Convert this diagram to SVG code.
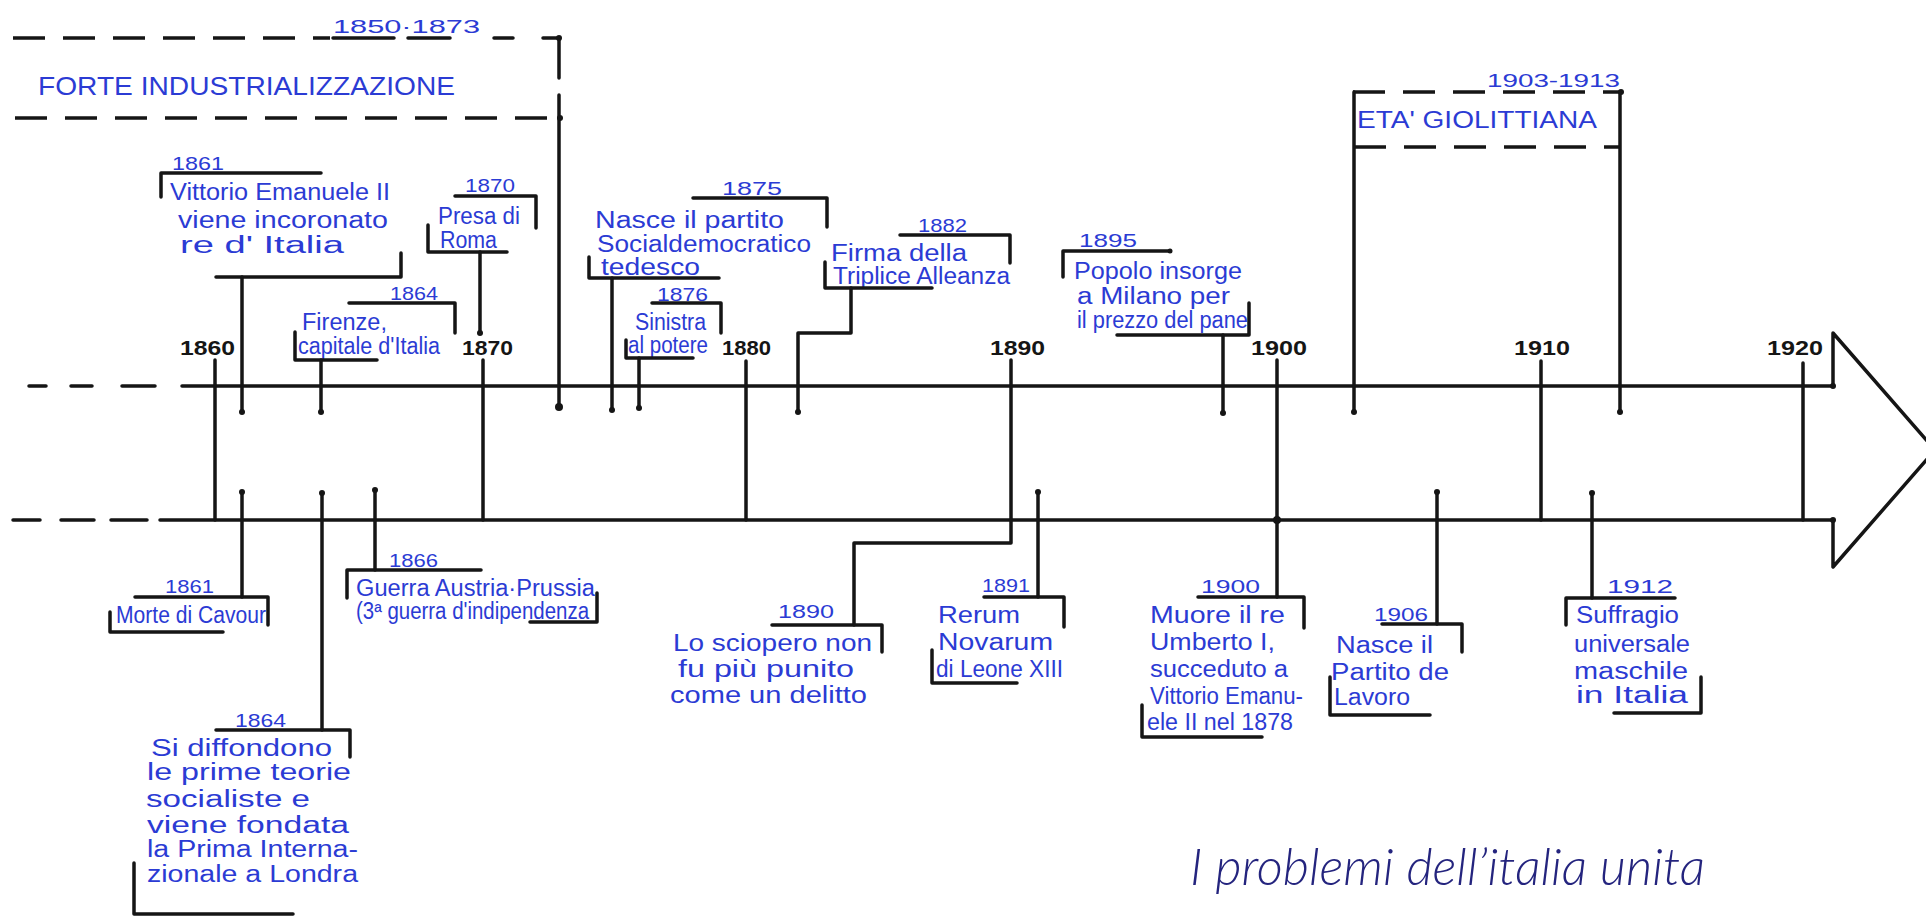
<svg xmlns="http://www.w3.org/2000/svg" width="1926" height="916" viewBox="0 0 1926 916">
<style>
.hw{font-family:"Liberation Sans","Open Sans",sans-serif;font-size:23px;fill:#2b3bd4}
.yr{font-family:"Liberation Sans","Open Sans",sans-serif;font-size:19px;fill:#2b3bd4}
.ax{font-family:"Liberation Sans",sans-serif;font-size:20px;font-weight:bold;fill:#151515}
.cap{font-family:"Liberation Sans",sans-serif;font-size:26px;fill:#2b3bd4}
.ttl{font-family:"Lato","Liberation Sans",sans-serif;font-style:italic;font-weight:300;font-size:52px;fill:#24247e}
.ln{stroke:#151515;stroke-width:3.5;fill:none;stroke-linecap:round;stroke-linejoin:round}
.dl{stroke:#151515;stroke-width:3.5;fill:none;stroke-dasharray:32 18}
.dot{fill:#151515}
</style>
<rect width="1926" height="916" fill="#ffffff"/>

<g id="axis">
  <path class="ln" d="M29 386H46M71 386H92M122 386H155M182 386H1833"/>
  <path class="ln" d="M13 520H40M61 520H94M111 520H147M160 520H1833"/>
  <path class="ln" d="M1833 386V333L1935 450L1833 567V520"/>
  <circle class="dot" cx="1833" cy="386" r="3"/>
  <circle class="dot" cx="1833" cy="520" r="3"/>
  <g id="years">
    <text class="ax" x="180" y="355" textLength="55" lengthAdjust="spacingAndGlyphs">1860</text>
    <text class="ax" x="462" y="355" textLength="51" lengthAdjust="spacingAndGlyphs">1870</text>
    <text class="ax" x="722" y="355" textLength="49" lengthAdjust="spacingAndGlyphs">1880</text>
    <text class="ax" x="990" y="355" textLength="55" lengthAdjust="spacingAndGlyphs">1890</text>
    <text class="ax" x="1251" y="355" textLength="56" lengthAdjust="spacingAndGlyphs">1900</text>
    <text class="ax" x="1514" y="355" textLength="56" lengthAdjust="spacingAndGlyphs">1910</text>
    <text class="ax" x="1767" y="355" textLength="56" lengthAdjust="spacingAndGlyphs">1920</text>
    <path class="ln" d="M215 360V520M483 360V520M746 361V520M1011 360V520M1277 360V520M1541 361V520M1803 363V520"/>
    <circle class="dot" cx="1277" cy="520" r="4"/>
  </g>
</g>

<g id="industrializzazione">
  <path class="dl" d="M13 38H330"/>
  <path class="ln" d="M333 38H394M408 38H450M494 38H513M543 38H559"/>
  <text class="yr" x="333" y="33" font-size="22" textLength="147" lengthAdjust="spacingAndGlyphs">1850·1873</text>
  <path class="ln" d="M559 38V78M559 95V407"/>
  <circle class="dot" cx="559" cy="38" r="3"/>
  <circle class="dot" cx="559" cy="407" r="4"/>
  <text class="cap" x="38" y="95" textLength="417" lengthAdjust="spacingAndGlyphs">FORTE INDUSTRIALIZZAZIONE</text>
  <path class="dl" d="M15 118H560"/>
  <circle class="dot" cx="560" cy="118" r="3"/>
</g>

<g id="giolittiana">
  <path class="dl" d="M1353 92H1621" stroke-dasharray="28 16"/>
  <circle class="dot" cx="1621" cy="92" r="3"/>
  <text class="yr" x="1487" y="87" font-size="21" textLength="133" lengthAdjust="spacingAndGlyphs">1903-1913</text>
  <path class="ln" d="M1354 92V412M1620 92V412"/>
  <circle class="dot" cx="1354" cy="412" r="3"/>
  <circle class="dot" cx="1620" cy="412" r="3"/>
  <text class="hw" x="1357" y="128" font-size="21" textLength="240" lengthAdjust="spacingAndGlyphs">ETA' GIOLITTIANA</text>
  <path class="dl" d="M1354 147H1620" stroke-dasharray="30 20"/>
</g>

<g id="e1861-vittorio">
  <text class="yr" x="172" y="170" textLength="52" lengthAdjust="spacingAndGlyphs">1861</text>
  <path class="ln" d="M161 197V173H321"/>
  <text class="hw" x="170" y="200" font-size="22" textLength="220" lengthAdjust="spacingAndGlyphs">Vittorio Emanuele II</text>
  <text class="hw" x="178" y="228" font-size="22" textLength="210" lengthAdjust="spacingAndGlyphs">viene incoronato</text>
  <text class="hw" x="180" y="253" font-size="22" textLength="164" lengthAdjust="spacingAndGlyphs">re d' Italia</text>
  <path class="ln" d="M401 253V277H216"/>
</g>

<g id="e1864-firenze">
  <text class="yr" x="390" y="300" font-size="18" textLength="48" lengthAdjust="spacingAndGlyphs">1864</text>
  <path class="ln" d="M349 303H455V333"/>
  <text class="hw" x="302" y="330" font-size="20" textLength="85" lengthAdjust="spacingAndGlyphs">Firenze,</text>
  <text class="hw" x="298" y="354" font-size="19" textLength="142" lengthAdjust="spacingAndGlyphs">capitale d'Italia</text>
  <path class="ln" d="M295 332V360H377"/>
</g>

<g id="e1870-roma">
  <text class="yr" x="465" y="192" font-size="18" textLength="50" lengthAdjust="spacingAndGlyphs">1870</text>
  <path class="ln" d="M455 196H536V228"/>
  <text class="hw" x="438" y="224" font-size="20" textLength="82" lengthAdjust="spacingAndGlyphs">Presa di</text>
  <text class="hw" x="440" y="248" font-size="18" textLength="57" lengthAdjust="spacingAndGlyphs">Roma</text>
  <path class="ln" d="M428 225V252H507"/>
</g>

<g id="e1875-spd">
  <text class="yr" x="722" y="195" textLength="60" lengthAdjust="spacingAndGlyphs">1875</text>
  <path class="ln" d="M693 198H827V227"/>
  <text class="hw" x="595" y="228" font-size="21" textLength="189" lengthAdjust="spacingAndGlyphs">Nasce il partito</text>
  <text class="hw" x="597" y="252" font-size="20" textLength="214" lengthAdjust="spacingAndGlyphs">Socialdemocratico</text>
  <text class="hw" x="601" y="275" font-size="19" textLength="99" lengthAdjust="spacingAndGlyphs">tedesco</text>
  <path class="ln" d="M589 257V278H719"/>
</g>

<g id="e1876-sinistra">
  <text class="yr" x="657" y="301" font-size="17" textLength="51" lengthAdjust="spacingAndGlyphs">1876</text>
  <path class="ln" d="M652 303H721V333"/>
  <text class="hw" x="635" y="330" font-size="18" textLength="71" lengthAdjust="spacingAndGlyphs">Sinistra</text>
  <text class="hw" x="628" y="353" font-size="18" textLength="80" lengthAdjust="spacingAndGlyphs">al potere</text>
  <path class="ln" d="M626 340V358H693"/>
</g>

<g id="e1882-triplice">
  <text class="yr" x="918" y="232" font-size="17" textLength="49" lengthAdjust="spacingAndGlyphs">1882</text>
  <path class="ln" d="M900 235H1010V263"/>
  <text class="hw" x="831" y="261" font-size="19" textLength="136" lengthAdjust="spacingAndGlyphs">Firma della</text>
  <text class="hw" x="833" y="284" font-size="19" textLength="177" lengthAdjust="spacingAndGlyphs">Triplice Alleanza</text>
  <path class="ln" d="M825 262V288H932"/>
</g>

<g id="e1895-milano">
  <text class="yr" x="1079" y="247" textLength="58" lengthAdjust="spacingAndGlyphs">1895</text>
  <path class="ln" d="M1063 277V251H1170"/>
  <circle class="dot" cx="1170" cy="251" r="2.5"/>
  <text class="hw" x="1074" y="279" font-size="21" textLength="168" lengthAdjust="spacingAndGlyphs">Popolo insorge</text>
  <text class="hw" x="1077" y="304" font-size="20" textLength="153" lengthAdjust="spacingAndGlyphs">a Milano per</text>
  <text class="hw" x="1077" y="328" font-size="18" textLength="171" lengthAdjust="spacingAndGlyphs">il prezzo del pane</text>
  <path class="ln" d="M1249 303V335H1117"/>
</g>

<g id="e1861-cavour">
  <text class="yr" x="165" y="593" textLength="49" lengthAdjust="spacingAndGlyphs">1861</text>
  <path class="ln" d="M135 597H268V625"/>
  <text class="hw" x="116" y="623" font-size="21" textLength="150" lengthAdjust="spacingAndGlyphs">Morte di Cavour</text>
  <path class="ln" d="M110 612V632H223"/>
</g>

<g id="e1864-internazionale">
  <text class="yr" x="235" y="727" textLength="51" lengthAdjust="spacingAndGlyphs">1864</text>
  <path class="ln" d="M216 730H350V757"/>
  <text class="hw" x="151" y="756" font-size="22" textLength="181" lengthAdjust="spacingAndGlyphs">Si diffondono</text>
  <text class="hw" x="147" y="780" font-size="22" textLength="204" lengthAdjust="spacingAndGlyphs">le prime teorie</text>
  <text class="hw" x="146" y="807" font-size="22" textLength="164" lengthAdjust="spacingAndGlyphs">socialiste e</text>
  <text class="hw" x="147" y="833" font-size="22" textLength="202" lengthAdjust="spacingAndGlyphs">viene fondata</text>
  <text class="hw" x="147" y="857" font-size="21" textLength="211" lengthAdjust="spacingAndGlyphs">la Prima Interna-</text>
  <text class="hw" x="147" y="882" font-size="21" textLength="211" lengthAdjust="spacingAndGlyphs">zionale a Londra</text>
  <path class="ln" d="M134 863V914H293"/>
</g>

<g id="e1866-guerra">
  <text class="yr" x="389" y="567" font-size="18" textLength="49" lengthAdjust="spacingAndGlyphs">1866</text>
  <path class="ln" d="M347 598V570H481"/>
  <text class="hw" x="356" y="596" font-size="18" textLength="239" lengthAdjust="spacingAndGlyphs">Guerra Austria·Prussia</text>
  <text class="hw" x="356" y="619" font-size="17" textLength="233" lengthAdjust="spacingAndGlyphs">(3ª guerra d'indipendenza</text>
  <path class="ln" d="M597 593V622H530"/>
</g>

<g id="e1890-sciopero">
  <text class="yr" x="778" y="618" textLength="56" lengthAdjust="spacingAndGlyphs">1890</text>
  <path class="ln" d="M772 625H882V652"/>
  <text class="hw" x="673" y="651" font-size="22" textLength="199" lengthAdjust="spacingAndGlyphs">Lo sciopero non</text>
  <text class="hw" x="678" y="677" font-size="22" textLength="176" lengthAdjust="spacingAndGlyphs">fu più punito</text>
  <text class="hw" x="670" y="703" font-size="22" textLength="197" lengthAdjust="spacingAndGlyphs">come un delitto</text>
</g>

<g id="e1891-rerum">
  <text class="yr" x="982" y="592" textLength="48" lengthAdjust="spacingAndGlyphs">1891</text>
  <path class="ln" d="M984 597H1064V627"/>
  <text class="hw" x="938" y="623" font-size="22" textLength="82" lengthAdjust="spacingAndGlyphs">Rerum</text>
  <text class="hw" x="938" y="650" font-size="22" textLength="115" lengthAdjust="spacingAndGlyphs">Novarum</text>
  <text class="hw" x="936" y="677" font-size="21" textLength="127" lengthAdjust="spacingAndGlyphs">di Leone XIII</text>
  <path class="ln" d="M932 650V683H1017"/>
</g>

<g id="e1900-umberto">
  <text class="yr" x="1201" y="593" textLength="59" lengthAdjust="spacingAndGlyphs">1900</text>
  <path class="ln" d="M1198 597H1304V628"/>
  <text class="hw" x="1150" y="623" font-size="22" textLength="135" lengthAdjust="spacingAndGlyphs">Muore il re</text>
  <text class="hw" x="1150" y="650" font-size="22" textLength="125" lengthAdjust="spacingAndGlyphs">Umberto I,</text>
  <text class="hw" x="1150" y="677" font-size="21" textLength="138" lengthAdjust="spacingAndGlyphs">succeduto a</text>
  <text class="hw" x="1150" y="704" font-size="21" textLength="153" lengthAdjust="spacingAndGlyphs">Vittorio Emanu-</text>
  <text class="hw" x="1147" y="730" font-size="20" textLength="146" lengthAdjust="spacingAndGlyphs">ele II nel 1878</text>
  <path class="ln" d="M1142 705V737H1262"/>
</g>

<g id="e1906-lavoro">
  <text class="yr" x="1374" y="621" textLength="54" lengthAdjust="spacingAndGlyphs">1906</text>
  <path class="ln" d="M1382 624H1462V652"/>
  <text class="hw" x="1336" y="653" font-size="22" textLength="97" lengthAdjust="spacingAndGlyphs">Nasce il</text>
  <text class="hw" x="1331" y="680" font-size="22" textLength="118" lengthAdjust="spacingAndGlyphs">Partito de</text>
  <text class="hw" x="1334" y="705" font-size="21" textLength="76" lengthAdjust="spacingAndGlyphs">Lavoro</text>
  <path class="ln" d="M1330 677V715H1430"/>
</g>

<g id="e1912-suffragio">
  <text class="yr" x="1607" y="593" textLength="66" lengthAdjust="spacingAndGlyphs">1912</text>
  <path class="ln" d="M1566 625V598H1675"/>
  <text class="hw" x="1576" y="623" font-size="21" textLength="103" lengthAdjust="spacingAndGlyphs">Suffragio</text>
  <text class="hw" x="1574" y="652" font-size="22" textLength="116" lengthAdjust="spacingAndGlyphs">universale</text>
  <text class="hw" x="1574" y="679" font-size="22" textLength="114" lengthAdjust="spacingAndGlyphs">maschile</text>
  <text class="hw" x="1576" y="703" font-size="21" textLength="112" lengthAdjust="spacingAndGlyphs">in Italia</text>
  <path class="ln" d="M1701 677V713H1614"/>
</g>

<g id="title">
  <text class="ttl" x="1190" y="885" textLength="515" lengthAdjust="spacingAndGlyphs">I problemi dell’italia unita</text>
</g>

<g id="connectors">
  <path class="ln" d="M242 277V412"/>
  <path class="ln" d="M321 360V412"/>
  <path class="ln" d="M480 252V333"/>
  <path class="ln" d="M612 278V410"/>
  <path class="ln" d="M639 358V408"/>
  <path class="ln" d="M851 288V333H798V412"/>
  <path class="ln" d="M1223 335V413"/>
  <path class="ln" d="M242 492V597"/>
  <path class="ln" d="M322 493V730"/>
  <path class="ln" d="M375 490V570"/>
  <path class="ln" d="M1011 520V543H854V625"/>
  <path class="ln" d="M1038 492V597"/>
  <path class="ln" d="M1277 520V597"/>
  <path class="ln" d="M1437 492V624"/>
  <path class="ln" d="M1592 493V598"/>
  <g class="dot">
    <circle cx="242" cy="412" r="3"/><circle cx="321" cy="412" r="3"/><circle cx="480" cy="333" r="3"/>
    <circle cx="612" cy="410" r="3"/><circle cx="639" cy="408" r="3"/><circle cx="798" cy="412" r="3"/>
    <circle cx="1223" cy="413" r="3"/><circle cx="242" cy="492" r="3"/><circle cx="322" cy="493" r="3"/>
    <circle cx="375" cy="490" r="3"/><circle cx="1038" cy="492" r="3"/><circle cx="1437" cy="492" r="3"/>
    <circle cx="1592" cy="493" r="3"/>
  </g>
</g>
</svg>
